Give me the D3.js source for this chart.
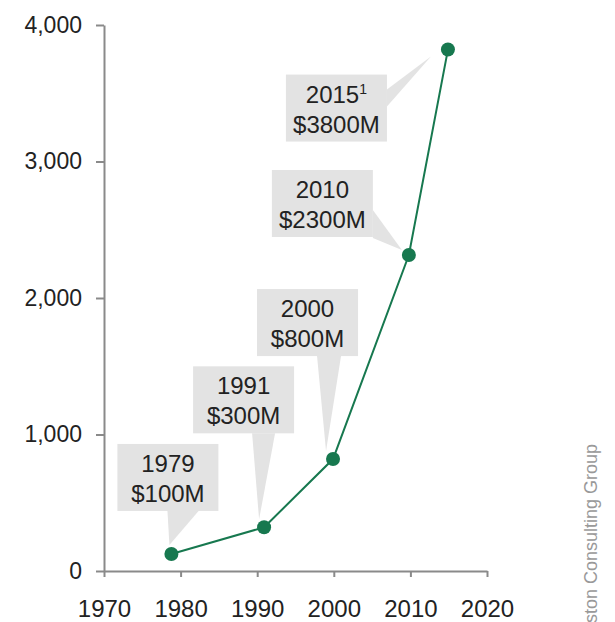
<!DOCTYPE html>
<html>
<head>
<meta charset="utf-8">
<script src="https://cdn.jsdelivr.net/npm/d3@7"></script>
<style>
  body { margin: 0; background: #fff; }
  svg { display: block; font-family: "Liberation Sans", Arial, sans-serif; }
</style>
</head>
<body>
<svg id="chart"></svg>
<script>
const width = 615;
const height = 622;

// data
const years = [1978.8, 1990.9, 1999.9, 2009.8, 2014.9];
const values = [125, 320, 820, 2315, 3820];
const labelYears = ["1979", "1991", "2000", "2010", "2015"];
const labelValues = ["$100M", "$300M", "$800M", "$2300M", "$3800M"];
const labelNotes = ["", "", "", "", "1"];
const yTicks = [0, 1000, 2000, 3000, 4000];
const xTicks = [1970, 1980, 1990, 2000, 2010, 2020];

// callout placement relative to each dot (pixels): box corner, pointer base, pointer tip
const callouts = [
    { box: [-54, -110], base: [[-4, -44], [28, -44]], tip: [-2, -9] },
    { box: [-71, -161], base: [[-12, -94], [11, -94]], tip: [-5, -8] },
    { box: [-76, -170], base: [[-16, -103], [8, -103]], tip: [-7, -8] },
    { box: [-137, -85], base: [[-36, -45], [-36, -17]], tip: [-7, -5] },
    { box: [-162, 25], base: [[-61, 40], [-61, 57]], tip: [-17, 7] }
];
const boxW = 101, boxH = 67;

const green = "#17784f";
const axisGrey = "#8a8a8a";

const svg = d3.select("#chart")
    .attr("width", width)
    .attr("height", height);

const x = d3.scaleLinear().domain([1970, 2020]).range([104, 487]);
const y = d3.scaleLinear().domain([0, 4000]).range([571, 25]);

const points = years.map((yr, i) => ({
    px: x(yr),
    py: y(values[i]),
    year: labelYears[i],
    value: labelValues[i],
    note: labelNotes[i],
    c: callouts[i]
}));

// Axes
const yAxis = svg.append("g")
    .attr("transform", `translate(${x(1970)},0)`)
    .call(d3.axisLeft(y)
        .tickValues(yTicks)
        .tickFormat(d3.format(","))
        .tickSize(8)
        .tickSizeOuter(0)
        .tickPadding(14));

const xAxis = svg.append("g")
    .attr("transform", `translate(0,${y(0)})`)
    .call(d3.axisBottom(x)
        .tickValues(xTicks)
        .tickFormat(d3.format("d"))
        .tickSize(6)
        .tickSizeOuter(0)
        .tickPadding(23));

[yAxis, xAxis].forEach(g => {
    g.select(".domain").attr("stroke", axisGrey).attr("stroke-width", 2);
    g.selectAll(".tick line").attr("stroke", axisGrey).attr("stroke-width", 2);
    g.selectAll(".tick text")
        .attr("fill", "#222")
        .style("font-size", "23px");
});
xAxis.selectAll(".tick text").style("font-size", "24px");

// Callouts
const callout = svg.append("g").selectAll("g")
    .data(points)
    .join("g");

callout.append("path")
    .attr("fill", "#e3e3e3")
    .attr("d", d => {
        const b0 = d.c.base[0], b1 = d.c.base[1], t = d.c.tip;
        return `M${d.px + b0[0]},${d.py + b0[1]}L${d.px + t[0]},${d.py + t[1]}L${d.px + b1[0]},${d.py + b1[1]}Z`;
    });

callout.append("rect")
    .attr("fill", "#e3e3e3")
    .attr("x", d => d.px + d.c.box[0])
    .attr("y", d => d.py + d.c.box[1])
    .attr("width", boxW)
    .attr("height", boxH);

const yearText = callout.append("text")
    .attr("text-anchor", "middle")
    .attr("fill", "#222")
    .style("font-size", "24px")
    .attr("x", d => d.px + d.c.box[0] + boxW / 2)
    .attr("y", d => d.py + d.c.box[1] + 28);

yearText.append("tspan").text(d => d.year);
yearText.append("tspan")
    .attr("dy", -9)
    .style("font-size", "14px")
    .text(d => d.note);

callout.append("text")
    .attr("text-anchor", "middle")
    .attr("fill", "#222")
    .style("font-size", "24px")
    .attr("x", d => d.px + d.c.box[0] + boxW / 2)
    .attr("y", d => d.py + d.c.box[1] + 58)
    .text(d => d.value);

// Line and dots
const line = d3.line().x(d => d.px).y(d => d.py);

svg.append("path")
    .datum(points)
    .attr("fill", "none")
    .attr("stroke", green)
    .attr("stroke-width", 2)
    .attr("d", line);

svg.append("g").selectAll("circle")
    .data(points)
    .join("circle")
    .attr("cx", d => d.px)
    .attr("cy", d => d.py)
    .attr("r", 7)
    .attr("fill", green);

// Source, cut off at the bottom edge like the original
svg.append("text")
    .attr("transform", "translate(597,444) rotate(-90)")
    .attr("text-anchor", "end")
    .attr("fill", "#999")
    .style("font-size", "18px")
    .text("Source: The Boston Consulting Group");
</script>
</body>
</html>
